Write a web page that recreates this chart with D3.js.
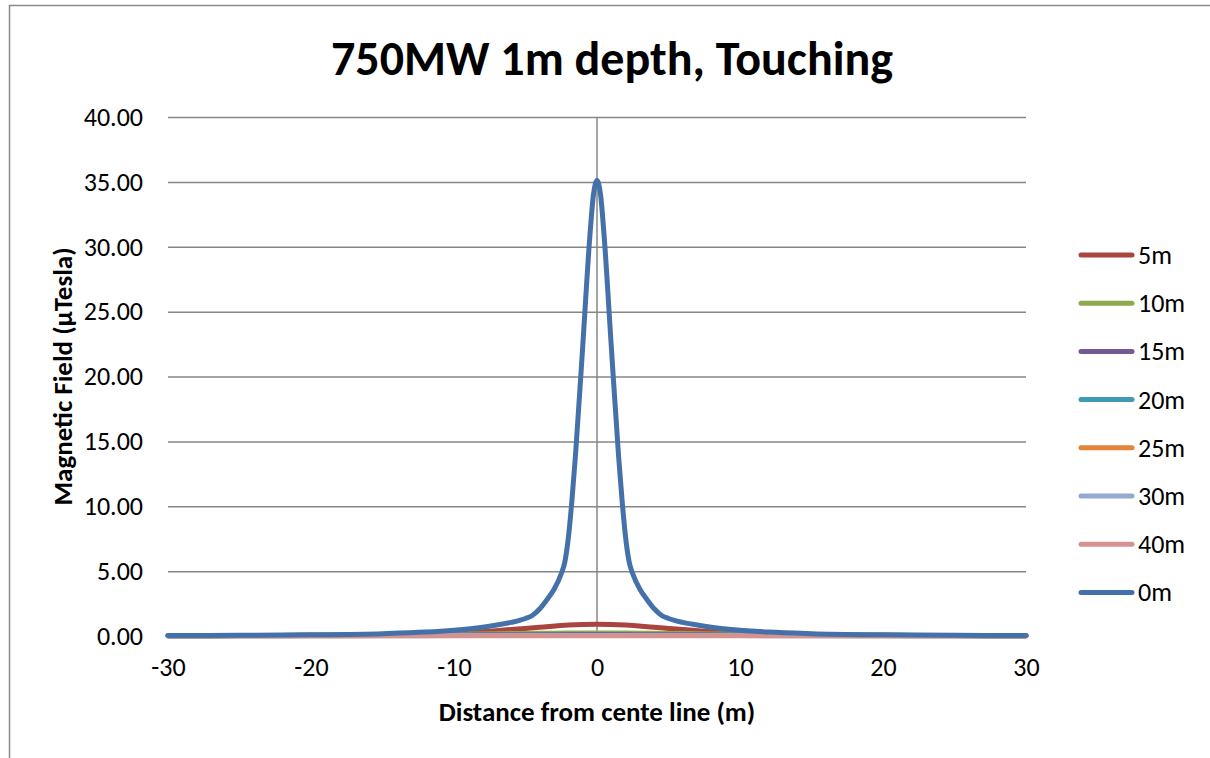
<!DOCTYPE html>
<html>
<head>
<meta charset="utf-8">
<script src="https://cdn.jsdelivr.net/npm/d3@7"></script>
<style>
  body { margin: 0; background: #fff; }
  svg { display: block; font-family: Carlito, Calibri, Lato, "Open Sans", sans-serif; }
</style>
</head>
<body>
<div id="chart"></div>
<script>
// distances from centre line (m)
const xs0 = [-30, -25, -20, -15, -12, -10, -8, -7, -6, -5, -4.5, -4, -3.5, -3, -2.5, -2.25, -2, -1.75, -1.5, -1, -0.5, -0.25, 0,
             0.25, 0.5, 1, 1.5, 1.75, 2, 2.25, 2.5, 3, 3.5, 4, 4.5, 5, 6, 7, 8, 10, 12, 15, 20, 25, 30];
const ys0 = [0.03, 0.05, 0.09, 0.18, 0.3, 0.45, 0.68, 0.85, 1.05, 1.35, 1.6, 2.1, 2.8, 3.6, 4.8, 5.7, 7.6, 10.5, 14.0, 22.3, 30.8, 34.0, 35.1,
             34.0, 30.8, 22.3, 14.0, 10.5, 7.6, 5.7, 4.8, 3.6, 2.8, 2.1, 1.6, 1.35, 1.05, 0.85, 0.68, 0.45, 0.3, 0.18, 0.09, 0.05, 0.03];

const xsN = [-30, -25, -20, -15, -10, -8, -6, -4, -2, 0, 2, 4, 6, 8, 10, 15, 20, 25, 30];
const ys5  = [0.02, 0.03, 0.05, 0.1, 0.22, 0.33, 0.5, 0.67, 0.84, 0.9, 0.84, 0.67, 0.5, 0.33, 0.22, 0.1, 0.05, 0.03, 0.02];
const ys10 = [0.02, 0.03, 0.05, 0.08, 0.13, 0.16, 0.19, 0.21, 0.23, 0.23, 0.23, 0.21, 0.19, 0.16, 0.13, 0.08, 0.05, 0.03, 0.02];
const ys15 = [0.02, 0.03, 0.04, 0.06, 0.08, 0.09, 0.1, 0.1, 0.11, 0.11, 0.11, 0.1, 0.1, 0.09, 0.08, 0.06, 0.04, 0.03, 0.02];
const ys20 = [0.02, 0.02, 0.03, 0.04, 0.05, 0.06, 0.06, 0.06, 0.06, 0.06, 0.06, 0.06, 0.06, 0.06, 0.05, 0.04, 0.03, 0.02, 0.02];
const ys25 = [0.01, 0.02, 0.02, 0.03, 0.04, 0.04, 0.04, 0.04, 0.04, 0.04, 0.04, 0.04, 0.04, 0.04, 0.04, 0.03, 0.02, 0.02, 0.01];
const ys30 = [0.01, 0.01, 0.02, 0.02, 0.03, 0.03, 0.03, 0.03, 0.03, 0.03, 0.03, 0.03, 0.03, 0.03, 0.03, 0.02, 0.02, 0.01, 0.01];
const ys40 = [0.01, 0.01, 0.01, 0.01, 0.02, 0.02, 0.02, 0.02, 0.02, 0.02, 0.02, 0.02, 0.02, 0.02, 0.02, 0.01, 0.01, 0.01, 0.01];

const seriesNames = ['5m', '10m', '15m', '20m', '25m', '30m', '40m', '0m'];
const seriesColors = ['#A9443F', '#8DAB4E', '#735A95', '#3F9AB4', '#E2843A', '#93AAD0', '#D49391', '#4571AA'];
const seriesX = [xsN, xsN, xsN, xsN, xsN, xsN, xsN, xs0];
const seriesY = [ys5, ys10, ys15, ys20, ys25, ys30, ys40, ys0];

const yTicks = [0, 5, 10, 15, 20, 25, 30, 35, 40];
const xTicks = [-30, -20, -10, 0, 10, 20, 30];

const width = 1210;
const height = 758;
const plot = { left: 168, right: 1026, top: 117, bottom: 636 };
const font = 'Carlito, Calibri, Lato, "Open Sans", sans-serif';

const svg = d3.select('#chart')
              .append('svg')
              .attr('width', width)
              .attr('height', height);

// outer chart border
svg.append('rect')
   .attr('x', 9.5)
   .attr('y', 5.5)
   .attr('width', width + 20)
   .attr('height', height + 20)
   .attr('fill', '#fff')
   .attr('stroke', '#8a8a8a')
   .attr('stroke-width', 1.5);

const xScale = d3.scaleLinear()
                 .domain([-30, 30])
                 .range([plot.left, plot.right]);

const yScale = d3.scaleLinear()
                 .domain([0, 40])
                 .range([plot.bottom, plot.top]);

// horizontal gridlines
const yAxis = d3.axisLeft(yScale)
                .tickValues(yTicks)
                .tickSize(-(plot.right - plot.left))
                .tickPadding(25)
                .tickFormat(d3.format('.2f'));

const yg = svg.append('g')
              .attr('transform', 'translate(' + plot.left + ',0)')
              .call(yAxis);
yg.select('.domain').remove();
yg.selectAll('line').attr('stroke', '#868686').attr('stroke-width', 1.5);
yg.selectAll('text').attr('font-size', 26).attr('fill', '#000').attr('font-family', font);

// x axis labels (no axis line, axis sits at y=0 under the series)
const xAxis = d3.axisBottom(xScale)
                .tickValues(xTicks)
                .tickSize(0)
                .tickPadding(22)
                .tickFormat((d) => String(d));

const xg = svg.append('g')
              .attr('transform', 'translate(0,' + plot.bottom + ')')
              .call(xAxis);
xg.select('.domain').remove();
xg.selectAll('text').attr('font-size', 26).attr('fill', '#000').attr('font-family', font);

// vertical value axis crossing at x = 0
svg.append('line')
   .attr('x1', xScale(0)).attr('x2', xScale(0))
   .attr('y1', plot.top).attr('y2', plot.bottom)
   .attr('stroke', '#868686')
   .attr('stroke-width', 1.5);

const line = d3.line()
               .x((d) => xScale(d[0]))
               .y((d) => yScale(d[1]))
               .curve(d3.curveMonotoneX);

seriesNames.forEach((name, i) => {
  const pts = seriesX[i].map((x, j) => [x, seriesY[i][j]]);
  svg.append('path')
     .datum(pts)
     .attr('d', line)
     .attr('fill', 'none')
     .attr('stroke', seriesColors[i])
     .attr('stroke-width', 5)
     .attr('stroke-linejoin', 'round')
     .attr('stroke-linecap', 'round');
});

// title
svg.append('text')
   .attr('x', 612)
   .attr('y', 75)
   .attr('text-anchor', 'middle')
   .attr('font-size', 48)
   .attr('font-weight', 'bold')
   .text('750MW 1m depth, Touching');

// axis titles
svg.append('text')
   .attr('x', xScale(0))
   .attr('y', 721)
   .attr('text-anchor', 'middle')
   .attr('font-size', 27)
   .attr('font-weight', 'bold')
   .text('Distance from cente line (m)');

svg.append('text')
   .attr('transform', 'translate(72,' + ((plot.top + plot.bottom) / 2) + ') rotate(-90)')
   .attr('text-anchor', 'middle')
   .attr('font-size', 27)
   .attr('font-weight', 'bold')
   .text('Magnetic Field (µTesla)');

// legend
const legend = svg.append('g');
seriesNames.forEach((name, i) => {
  const y = 255 + i * 48.2;
  legend.append('line')
        .attr('x1', 1081).attr('x2', 1132)
        .attr('y1', y).attr('y2', y)
        .attr('stroke', seriesColors[i])
        .attr('stroke-width', 5)
        .attr('stroke-linecap', 'round');
  legend.append('text')
        .attr('x', 1138)
        .attr('y', y + 9)
        .attr('font-size', 26)
        .text(name);
});
</script>
</body>
</html>
